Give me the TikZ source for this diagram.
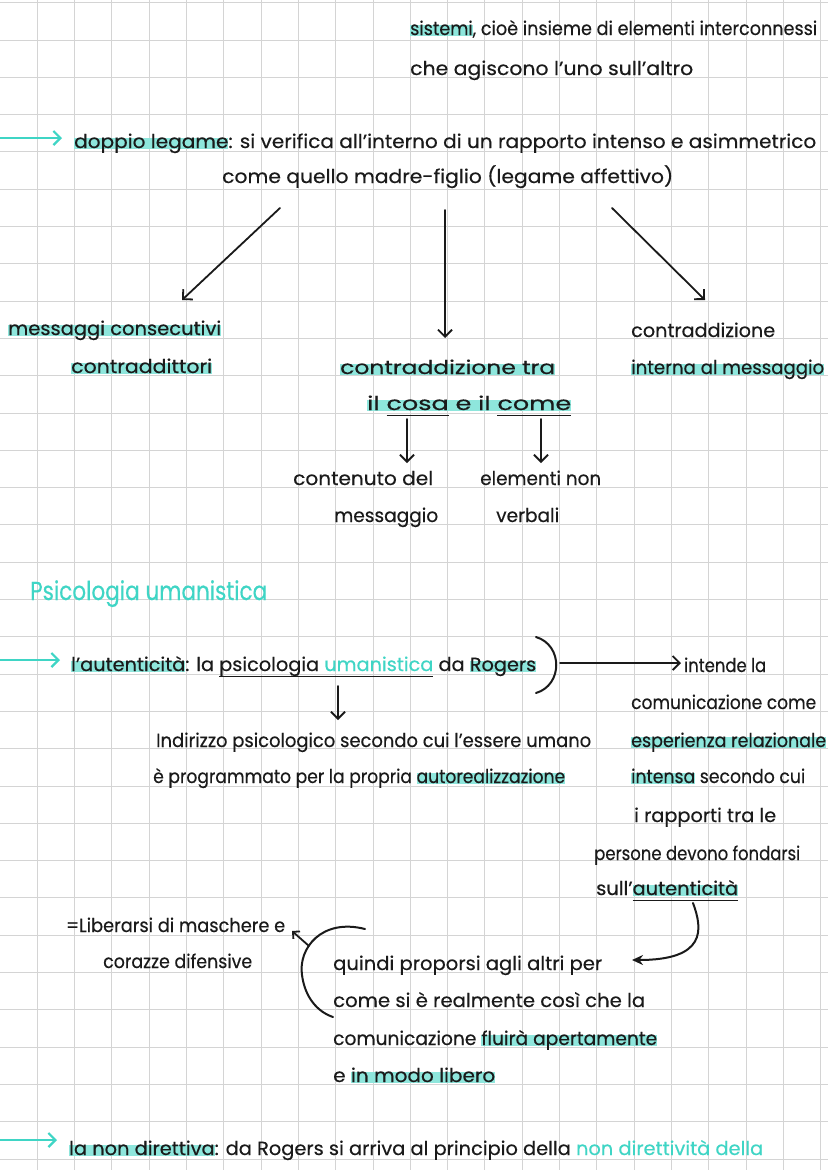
\documentclass[tikz,border=0pt]{standalone}
\usepackage{fontspec}
\setmainfont{Poppins}[FakeBold=0.4]
\usetikzlibrary{arrows.meta}
\definecolor{ink}{HTML}{1A1A1A}
\definecolor{hlc}{HTML}{8EE6DC}
\definecolor{tealc}{HTML}{3FD5C5}
\definecolor{gridc}{HTML}{D4D4D4}
\newsavebox\hlboxa
\newsavebox\ulboxa
\newcommand\hl[1]{\sbox\hlboxa{#1}\rlap{\textcolor{hlc}{\rule[-0.06em]{\wd\hlboxa}{0.6em}}}#1}
\newcommand\ulin[1]{\sbox\ulboxa{#1}\rlap{\rule[-0.32em]{\wd\ulboxa}{1.5pt}}#1}
\newcommand\fitw[2]{\resizebox{#1pt}{\height}{#2}}
\tikzset{
  txt/.style={anchor=base west, inner sep=0pt, text=ink, font=\fontsize{19}{22}\selectfont},
  head/.style={anchor=base west, inner sep=0pt, text=tealc, font=\fontsize{26}{30}\selectfont},
  arr/.style={draw=ink, line width=1.8pt, line cap=round, -{Straight Barb[length=7pt,width=14pt]}},
  tarr/.style={draw=tealc, line width=2.2pt, line cap=round, -{Straight Barb[length=7pt,width=14pt]}},
  pen/.style={draw=ink, line width=2pt, line cap=round},
}
\begin{document}
\begin{tikzpicture}[x=1pt,y=-1pt]
\useasboundingbox (0,0) rectangle (828,1170);
\fill[white] (0,0) rectangle (828,1170);
% grid
\foreach \k in {1,...,22} \draw[gridc, line width=1pt] ({37.3*\k},0) -- ({37.3*\k},1170);
\foreach \k in {0,...,31} \draw[gridc, line width=1pt] (0,{2.7+37.3*\k}) -- (828,{2.7+37.3*\k});

% top lines
\node[txt] (t1) at (410,35) {\fitw{407}{\hl{sistemi}, cioè insieme di elementi interconnessi}};
\node[txt] (t2) at (410,75) {\fitw{283}{che agiscono l'uno sull'altro}};

% doppio legame
\coordinate (a1s) at (0,138);
\coordinate (a1e) at (62,138);
\draw[tarr] (a1s) -- (a1e);
\node[txt] (t3) at (74,148) {\fitw{742}{\hl{doppio legame}: si verifica all'interno di un rapporto intenso e asimmetrico}};
\node[txt] (t4) at (222,183) {\fitw{451}{come quello madre-figlio (legame affettivo)}};

\coordinate (b1) at (280,208);
\coordinate (b2) at (445,210);
\coordinate (b3) at (612,208);
\coordinate (e1) at (182,300);
\coordinate (e2) at (445,338);
\coordinate (e3) at (705,300);
\draw[arr] (b1) -- (e1);
\draw[arr] (b2) -- (e2);
\draw[arr] (b3) -- (e3);

\node[txt] (t5) at (8,335) {\fitw{213}{\hl{messaggi consecutivi}}};
\node[txt] (t6) at (71,373) {\fitw{141}{\hl{contraddittori}}};
\node[txt] (t7) at (631,337) {\fitw{144}{contraddizione}};
\node[txt] (t8) at (631,374) {\fitw{193}{\hl{interna al messaggio}}};
\node[txt] (t9) at (340,374) {\fitw{215}{\hl{contraddizione tra}}};
\node[txt] (t10) at (367,410) {\fitw{204}{\hl{il \ulin{cosa} e il \ulin{come}}}};

\coordinate (c1) at (407,419);
\coordinate (c2) at (541,419);
\coordinate (d1) at (407,463);
\coordinate (d2) at (541,463);
\draw[arr] (c1) -- (d1);
\draw[arr] (c2) -- (d2);

\node[txt] (t11) at (293,485) {\fitw{140}{contenuto del}};
\node[txt] (t12) at (334,522) {\fitw{104}{messaggio}};
\node[txt] (t13) at (480,485) {\fitw{121}{elementi non}};
\node[txt] (t14) at (496,522) {\fitw{63}{verbali}};

% Psicologia umanistica
\node[head] (t15) at (30,600) {\fitw{237}{Psicologia umanistica}};

\coordinate (a2s) at (0,660);
\coordinate (a2e) at (60,660);
\draw[tarr] (a2s) -- (a2e);
\node[txt] (t16) at (71,671) {\fitw{465}{\hl{l'autenticità}: la \ulin{psicologia {\color{tealc}umanistica}} da \hl{Rogers}}};
\draw[pen] (536,637) .. controls (563,645) and (563,685) .. (536,693);
\coordinate (r1) at (560,663);
\coordinate (r2) at (681,663);
\draw[arr] (r1) -- (r2);
\node[txt] (t17) at (684,672) {\fitw{82}{intende la}};

\coordinate (u1) at (338,686);
\coordinate (u2) at (338,720);
\draw[arr] (u1) -- (u2);

\node[txt] (t18) at (631,709) {\fitw{185}{comunicazione come}};
\node[txt] (t19) at (156,747) {\fitw{435}{Indirizzo psicologico secondo cui l'essere umano}};
\node[txt] (t20) at (153,783) {\fitw{412}{è programmato per la propria \hl{autorealizzazione}}};
\node[txt] (t21) at (631,747) {\fitw{195}{\hl{esperienza relazionale}}};
\node[txt] (t22) at (631,783) {\fitw{174}{\hl{intensa} secondo cui}};
\node[txt] (t23) at (634,822) {\fitw{142}{i rapporti tra le}};
\node[txt] (t24) at (594,860) {\fitw{206}{persone devono fondarsi}};
\node[txt] (t25) at (596,895) {\fitw{142}{sull'\ulin{\hl{autenticità}}}};

\coordinate (k1) at (693,903);
\coordinate (k2) at (632,960);
\draw[draw=ink, line width=2pt, line cap=round, -{Stealth[length=11pt,width=10pt]}] (k1) .. controls (703,930) and (706,960) .. (k2);

\node[txt] (t26) at (66,932) {\fitw{219}{=Liberarsi di maschere e}};
\node[txt] (t27) at (103,968) {\fitw{149}{corazze difensive}};

\draw[pen] (365,929) .. controls (322,918) and (298,948) .. (302,975) .. controls (305,998) and (318,1012) .. (333,1017);
\coordinate (s1) at (309,946);
\coordinate (s2) at (292,931);
\draw[draw=ink, line width=1.8pt, line cap=round, -{Straight Barb[length=5pt,width=10pt]}] (s1) -- (s2);

\node[txt] (t28) at (333,970) {\fitw{269}{quindi proporsi agli altri per}};
\node[txt] (t29) at (333,1007) {\fitw{312}{come si è realmente così che la}};
\node[txt] (t30) at (333,1045) {\fitw{324}{comunicazione \hl{fluirà apertamente}}};
\node[txt] (t31) at (333,1082) {\fitw{162}{e \hl{in modo libero}}};

\coordinate (a3s) at (0,1140);
\coordinate (a3e) at (57,1140);
\draw[tarr] (a3s) -- (a3e);
\node[txt] (t32) at (69,1155) {\fitw{694}{\hl{la non direttiva}: da Rogers si arriva al principio della {\color{tealc}non direttività della}}};
\end{tikzpicture}
\end{document}
